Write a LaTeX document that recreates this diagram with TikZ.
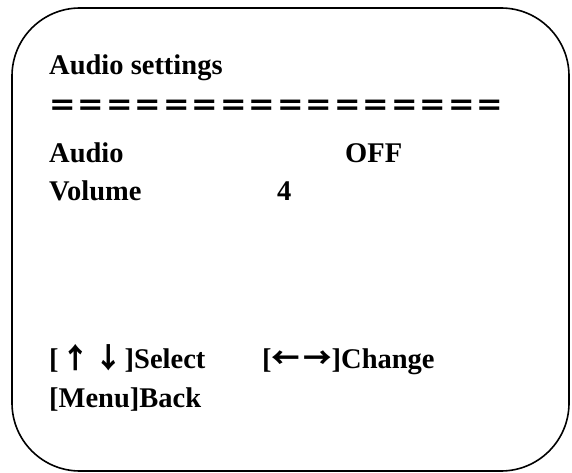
\documentclass[tikz,border=0pt]{standalone}
\usepackage{fontspec}
\setmainfont{Liberation Serif}
\newfontfamily\cjk{Noto Sans CJK SC}
\begin{document}
\begin{tikzpicture}[x=1pt,y=-1pt,
  txt/.style={anchor=base west, inner sep=0pt, font=\bfseries\fontsize{28.5}{28.5}\selectfont},
  frame/.style={line width=1.6pt, rounded corners=68pt}]
\useasboundingbox (0,0) rectangle (572,473);
\draw[frame] (12,8) rectangle (569,471);
\node[txt] (title) at (49,75) {Audio settings};
\node[txt] (sep) at (48,117) {\cjk\bfseries ＝＝＝＝＝＝＝＝＝＝＝＝＝＝＝＝};
\node[txt] (audio) at (49,162) {Audio};
\node[txt] (off) at (345,162) {OFF};
\node[txt] (volume) at (49,200) {Volume};
\node[txt] (four) at (277,200) {4};
\node[txt] (select) at (49,368) {[\kern3pt{\cjk\bfseries ↑\kern4pt↓}\kern2pt]Select};
\node[txt] (change) at (262,368) {[{\cjk\bfseries ←\kern3pt→}]Change};
\node[txt] (back) at (49,407) {[Menu]Back};
\end{tikzpicture}
\end{document}
